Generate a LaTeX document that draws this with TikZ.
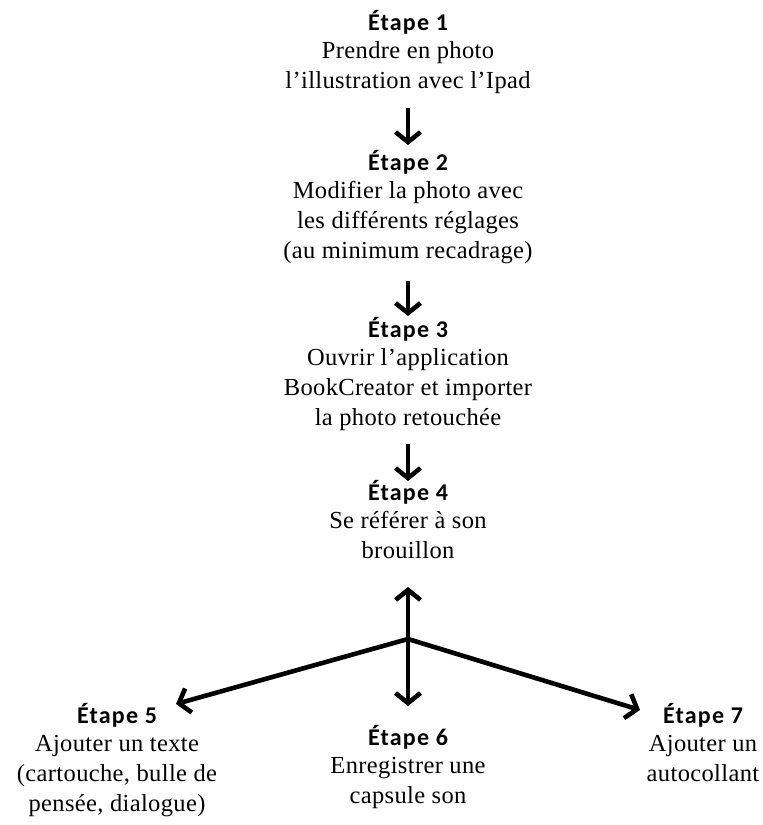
\documentclass[tikz,border=0pt]{standalone}
\usepackage{fontspec}
\setmainfont{Liberation Serif}[LetterSpace=1.5]
\newfontfamily\headfont{Carlito}[LetterSpace=5]
\usetikzlibrary{arrows.meta}
\begin{document}
\begin{tikzpicture}[x=1pt,y=-1pt,
  stepnode/.style={align=center,inner sep=0pt,anchor=base,font=\fontsize{24.5}{30}\selectfont},
  arr/.style={line width=4.6pt,-{Straight Barb[length=10pt,width=25pt]}}]
\useasboundingbox (0,0) rectangle (763,825);
\newcommand\hd[1]{{\headfont\bfseries\fontsize{24}{30}\selectfont #1}\\[-2pt]}
\node[stepnode] (s1) at (408,88) {\hd{Étape 1}Prendre en photo\\l’illustration avec l’Ipad};
\node[stepnode] (s2) at (408,258) {\hd{Étape 2}Modifier la photo avec\\les différents réglages\\(au minimum recadrage)};
\node[stepnode] (s3) at (408,425) {\hd{Étape 3}Ouvrir l’application\\BookCreator et importer\\la photo retouchée};
\node[stepnode] (s4) at (408,558) {\hd{Étape 4}Se référer à son\\brouillon};
\node[stepnode] (s5) at (117,811) {\hd{Étape 5}Ajouter un texte\\(cartouche, bulle de\\pensée, dialogue)};
\node[stepnode] (s6) at (408,803) {\hd{Étape 6}Enregistrer une\\capsule son};
\node[stepnode] (s7) at (703,781) {\hd{Étape 7}Ajouter un\\autocollant};
\coordinate (a1s) at (408,108); \coordinate (a1e) at (408,145);
\coordinate (a2s) at (408,281); \coordinate (a2e) at (408,316);
\coordinate (a3s) at (408,444); \coordinate (a3e) at (408,481);
\coordinate (j) at (408,639);
\coordinate (t4) at (408,587);
\coordinate (t5) at (176,704);
\coordinate (t6) at (408,706);
\coordinate (t7) at (640,710);
\draw[arr] (a1s) -- (a1e);
\draw[arr] (a2s) -- (a2e);
\draw[arr] (a3s) -- (a3e);
\draw[arr] (j) -- (t4);
\draw[arr] (j) -- (t5);
\draw[arr] (j) -- (t6);
\draw[arr] (j) -- (t7);
\end{tikzpicture}
\end{document}
